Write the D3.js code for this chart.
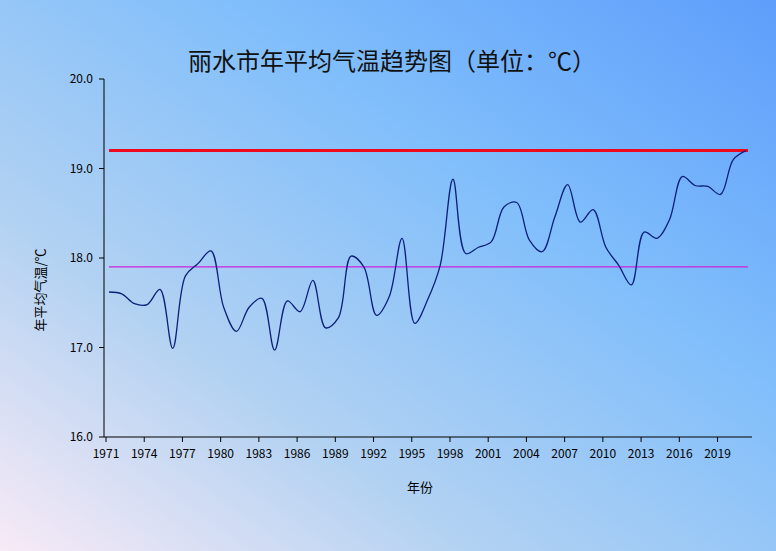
<!DOCTYPE html>
<html>
<head>
<meta charset="utf-8" />
<script src="https://cdn.jsdelivr.net/npm/d3@7"></script>
<style>
  body { margin: 0; }
  text { font-family: "Noto Sans CJK SC", "Noto Sans", sans-serif; }
</style>
</head>
<body>
<svg id="chart" width="776" height="551"></svg>
<script>
// data
var years = d3.range(1971, 2022);
var temps = [17.62, 17.6, 17.49, 17.48, 17.65, 16.99, 17.8, 17.94, 18.08, 17.45,
  17.18, 17.45, 17.55, 16.97, 17.52, 17.4, 17.75, 17.22, 17.33, 18.02,
  17.9, 17.36, 17.57, 18.22, 17.27, 17.53, 17.92, 18.88, 18.05, 18.12,
  18.18, 18.57, 18.62, 18.2, 18.07, 18.46, 18.82, 18.4, 18.54, 18.12,
  17.92, 17.7, 18.29, 18.22, 18.43, 18.91, 18.81, 18.8, 18.71, 19.1, 19.2];
var yTicks = [16, 17, 18, 19, 20];
var refHigh = 19.2; // red line
var refAvg = 17.9;  // magenta line

var svg = d3.select('#chart');

// background gradient
var defs = svg.append('defs');
var g1 = defs.append('linearGradient').attr('id', 'bg')
  .attr('x1', '0%').attr('y1', '100%').attr('x2', '100%').attr('y2', '0%');
g1.append('stop').attr('offset', '0%').attr('stop-color', '#f8eaf6');
g1.append('stop').attr('offset', '30%').attr('stop-color', '#b3d2f2');
g1.append('stop').attr('offset', '65%').attr('stop-color', '#80befb');
g1.append('stop').attr('offset', '100%').attr('stop-color', '#5e9efb');
svg.append('rect').attr('width', 776).attr('height', 551).attr('fill', 'url(#bg)');

var x = d3.scaleLinear().domain([1971, 2021]).range([109, 746]);
var y = d3.scaleLinear().domain([16, 20]).range([437, 79]);

// axes
svg.append('line').attr('x1', 104).attr('x2', 752).attr('y1', 437).attr('y2', 437).attr('stroke', '#000');
svg.append('line').attr('x1', 104).attr('x2', 104).attr('y1', 79).attr('y2', 437).attr('stroke', '#000');

svg.selectAll('.yt').data(yTicks).enter().append('line')
  .attr('x1', 99).attr('x2', 104).attr('y1', y).attr('y2', y).attr('stroke', '#000');
svg.selectAll('.yl').data(yTicks).enter().append('text')
  .attr('x', 93).attr('y', function (d) { return y(d) + 4; })
  .attr('text-anchor', 'end').attr('font-size', 12)
  .text(function (d) { return d.toFixed(1); });

var xTicks = years.filter(function (d) { return (d - 1971) % 3 === 0; });
svg.selectAll('.xt').data(xTicks).enter().append('line')
  .attr('x1', function (d) { return x(d) - 3; }).attr('x2', function (d) { return x(d) - 3; })
  .attr('y1', 437).attr('y2', 442).attr('stroke', '#000');
svg.selectAll('.xl').data(xTicks).enter().append('text')
  .attr('x', function (d) { return x(d) - 3; }).attr('y', 458)
  .attr('text-anchor', 'middle').attr('font-size', 12)
  .text(function (d) { return d; });

// reference lines
svg.append('line').attr('x1', 109).attr('x2', 748)
  .attr('y1', y(refHigh)).attr('y2', y(refHigh))
  .attr('stroke', '#ee0a1c').attr('stroke-width', 3);
svg.append('line').attr('x1', 109).attr('x2', 748)
  .attr('y1', y(refAvg)).attr('y2', y(refAvg))
  .attr('stroke', '#cc22dd').attr('stroke-width', 1.2);

// series
var line = d3.line()
  .x(function (d, i) { return x(years[i]); })
  .y(function (d) { return y(d); })
  .curve(d3.curveCatmullRom.alpha(0.5));
svg.append('path').datum(temps).attr('d', line)
  .attr('fill', 'none').attr('stroke', '#0d1f7a').attr('stroke-width', 1.3);

// titles
svg.append('text').attr('x', 392).attr('y', 70).attr('text-anchor', 'middle')
  .attr('font-size', 24).attr('fill', '#111').text('丽水市年平均气温趋势图（单位：℃）');
svg.append('text').attr('x', 420).attr('y', 492).attr('text-anchor', 'middle')
  .attr('font-size', 13).text('年份');
svg.append('text').attr('transform', 'translate(45,290) rotate(-90)')
  .attr('text-anchor', 'middle').attr('font-size', 13).text('年平均气温/℃');
</script>
</body>
</html>
